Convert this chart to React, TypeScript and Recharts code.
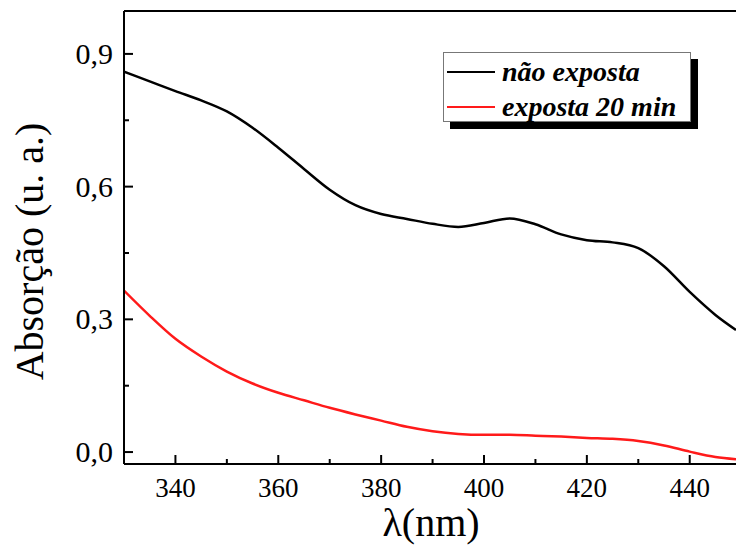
import React from "react";
import { LineChart, Line, XAxis, YAxis, ReferenceLine, Legend } from "recharts";

const wavelengths = [330, 335, 340, 345, 350, 355, 360, 365, 370, 375, 380, 385, 390, 395, 400, 405, 410, 415, 420, 425, 430, 435, 440, 445, 449];
const naoExposta = [0.86, 0.838, 0.816, 0.795, 0.77, 0.733, 0.688, 0.64, 0.593, 0.558, 0.538, 0.527, 0.516, 0.509, 0.518, 0.528, 0.515, 0.492, 0.479, 0.474, 0.461, 0.42, 0.362, 0.31, 0.276];
const exposta20 = [0.365, 0.308, 0.256, 0.216, 0.182, 0.155, 0.134, 0.117, 0.1, 0.085, 0.071, 0.057, 0.047, 0.041, 0.039, 0.039, 0.037, 0.035, 0.032, 0.03, 0.025, 0.015, 0.001, -0.011, -0.016];
const seriesNames = ["não exposta", "exposta 20 min"];
const seriesColors = ["#000000", "#ff1a1a"];
const xTicks = [340, 350, 360, 370, 380, 390, 400, 410, 420, 430, 440];
const xMajor = [340, 360, 380, 400, 420, 440];
const yTicks = [0, 0.15, 0.3, 0.45, 0.6, 0.75, 0.9];
const yMajor = [0, 0.3, 0.6, 0.9];
const xDomain = [330, 449];
const yDomain = [-0.027, 0.997];

const data = wavelengths.map((wl, i) => ({ wl, a: naoExposta[i], b: exposta20[i] }));

const FONT = "Liberation Serif, DejaVu Serif, Times New Roman, Times, serif";
const X_TM = 33;
const Y_TM = 11;

const XTick = (props: any) => {
  const { x, y, payload } = props;
  const axisY = y - X_TM;
  const major = xMajor.includes(payload.value);
  return (
    <g>
      <line x1={x} x2={x} y1={axisY} y2={axisY - (major ? 9 : 5)} stroke="#000" strokeWidth={2} />
      {major && (
        <text x={x} y={y} textAnchor="middle" style={{ fontFamily: FONT }} fontSize={27} fill="#000">
          {payload.value}
        </text>
      )}
    </g>
  );
};

const YTick = (props: any) => {
  const { x, y, payload } = props;
  const axisX = x + Y_TM;
  const major = yMajor.some((m) => Math.abs(m - payload.value) < 1e-6);
  return (
    <g>
      <line x1={axisX} x2={axisX + (major ? 9 : 5)} y1={y} y2={y} stroke="#000" strokeWidth={2} />
      {major && (
        <text x={x} y={y + 10} textAnchor="end" style={{ fontFamily: FONT }} fontSize={30} fill="#000">
          {payload.value.toFixed(1).replace(".", ",")}
        </text>
      )}
    </g>
  );
};

const YLabel = (props: any) => {
  const vb = props.viewBox || {};
  const cx = (vb.x || 0) + 43;
  const cy = (vb.y || 0) + (vb.height || 0) / 2 + 14;
  return (
    <text x={cx} y={cy} transform={`rotate(-90, ${cx}, ${cy})`} textAnchor="middle" style={{ fontFamily: FONT }} fontSize={40} fill="#000">
      Absorção (u. a.)
    </text>
  );
};

const XLabel = (props: any) => {
  const vb = props.viewBox || {};
  const cx = (vb.x || 0) + (vb.width || 0) / 2 + 1;
  const cy = (vb.y || 0) + 72;
  return (
    <text x={cx} y={cy} textAnchor="middle" style={{ fontFamily: FONT }} fontSize={40} fill="#000">
      λ(nm)
    </text>
  );
};

const LegendBox = () => (
  <div
    style={{
      position: "absolute",
      left: 443,
      top: 52,
      width: 246,
      height: 68,
      border: "1px solid #777",
      background: "#fff",
      boxShadow: "7px 7px 0 #000",
      fontFamily: FONT,
      fontWeight: "bold",
      fontStyle: "italic",
      fontSize: 28,
      color: "#000",
      boxSizing: "content-box",
    }}
  >
    {seriesNames.map((name, i) => (
      <div key={name} style={{ position: "absolute", left: 3, top: 4 + i * 35, height: 30, display: "flex", alignItems: "center", whiteSpace: "nowrap" }}>
        <div style={{ width: 48, height: 2.5, background: seriesColors[i], marginRight: 7 }} />
        <span style={{ lineHeight: "30px" }}>{name}</span>
      </div>
    ))}
  </div>
);

export default function App() {
  return (
    <div style={{ position: "absolute", left: 0, top: 0, width: 736, height: 549, overflow: "hidden", background: "#fff" }}>
      <LineChart width={736} height={549} data={data} margin={{ top: 11, right: 0, bottom: 0, left: 0 }}>
        <XAxis
          dataKey="wl"
          type="number"
          domain={xDomain}
          allowDataOverflow
          ticks={xTicks}
          interval={0}
          tickSize={0}
          tickMargin={X_TM}
          tick={<XTick />}
          height={85}
          axisLine={{ stroke: "#000", strokeWidth: 2 }}
          label={<XLabel />}
        />
        <YAxis
          type="number"
          domain={yDomain}
          allowDataOverflow
          ticks={yTicks}
          interval={0}
          tickSize={0}
          tickMargin={Y_TM}
          tick={<YTick />}
          width={124}
          axisLine={{ stroke: "#000", strokeWidth: 2 }}
          label={<YLabel />}
        />
        <ReferenceLine y={yDomain[1]} stroke="#000" strokeWidth={2} ifOverflow="visible" />
        <Line type="monotone" dataKey="a" name={seriesNames[0]} stroke={seriesColors[0]} strokeWidth={2.5} dot={false} isAnimationActive={false} />
        <Line type="monotone" dataKey="b" name={seriesNames[1]} stroke={seriesColors[1]} strokeWidth={2.5} dot={false} isAnimationActive={false} />
        <Legend content={() => <LegendBox />} wrapperStyle={{ position: "absolute", left: 0, top: 0, width: 0, height: 0 }} />
      </LineChart>
    </div>
  );
}
